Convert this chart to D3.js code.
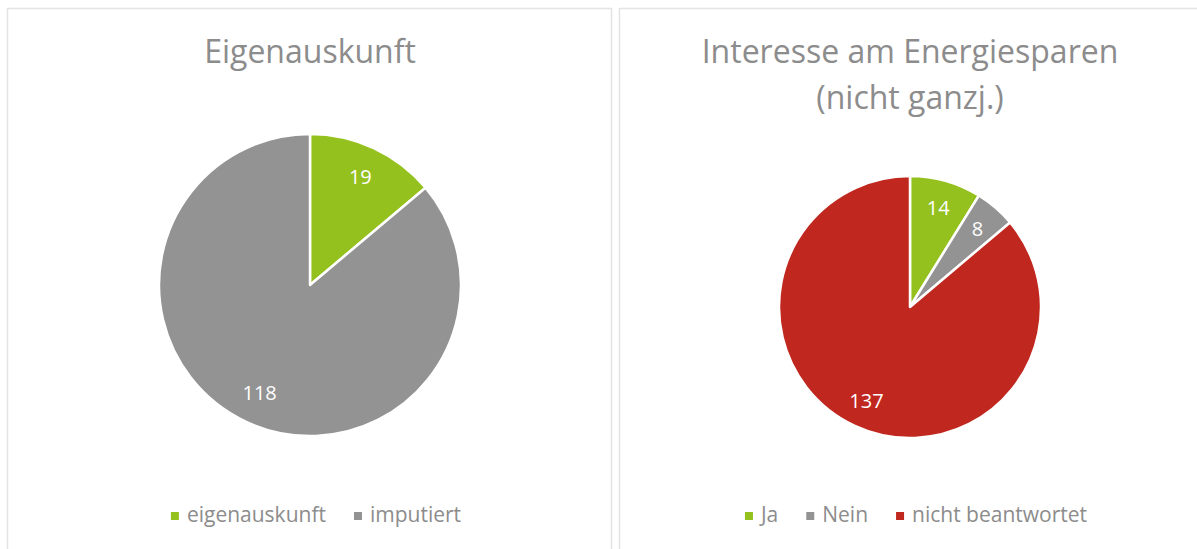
<!DOCTYPE html>
<html>
<head>
<meta charset="utf-8">
<script src="https://cdn.jsdelivr.net/npm/d3@7"></script>
<style>
  body { margin: 0; background: #fff; }
  svg { display: block; font-family: "Open Sans", sans-serif; }
</style>
</head>
<body>
<script>
// chart data
var leftTitle = ["Eigenauskunft"];
var leftLabels = ["eigenauskunft", "imputiert"];
var leftValues = [19, 118];

var rightTitle = ["Interesse am Energiesparen", "(nicht ganzj.)"];
var rightLabels = ["Ja", "Nein", "nicht beantwortet"];
var rightValues = [14, 8, 137];

var width = 1197, height = 549;

var colorMap = {
  "eigenauskunft": "#95c11f",
  "imputiert": "#939393",
  "Ja": "#95c11f",
  "Nein": "#939393",
  "nicht beantwortet": "#c0281f"
};

var svg = d3.select("body").append("svg")
    .attr("width", width)
    .attr("height", height);

var panels = [
  {x: 7.5, w: 604, cx: 310, cy: 285, r: 151, title: leftTitle, labels: leftLabels, values: leftValues, legendShift: 6},
  {x: 619.5, w: 600, cx: 910, cy: 307, r: 131, title: rightTitle, labels: rightLabels, values: rightValues, legendShift: 6}
];

panels.forEach(function(p) {
  // frame
  svg.append("rect")
      .attr("x", p.x).attr("y", 8.5)
      .attr("width", p.w).attr("height", 560)
      .attr("fill", "none")
      .attr("stroke", "#e3e3e3")
      .attr("stroke-width", 1.5);

  // title
  var t = svg.append("text")
      .attr("text-anchor", "middle")
      .attr("fill", "#8c8c8c")
      .style("font-size", "32px");
  p.title.forEach(function(line, i) {
    t.append("tspan")
        .attr("x", p.cx)
        .attr("y", 63 + i * 46)
        .text(line);
  });

  var data = p.labels.map(function(l, i) { return {label: l, value: p.values[i]}; });

  var pie = d3.pie().sort(null).value(function(d) { return d.value; });
  var arc = d3.arc().innerRadius(0).outerRadius(p.r);
  var labelArc = d3.arc().innerRadius(p.r * 0.79).outerRadius(p.r * 0.79);

  var g = svg.append("g").attr("transform", "translate(" + p.cx + "," + p.cy + ")");
  var arcs = pie(data);

  g.selectAll("path")
      .data(arcs)
      .enter().append("path")
      .attr("d", arc)
      .attr("fill", function(d) { return colorMap[d.data.label]; })
      .attr("stroke", "#fff")
      .attr("stroke-width", 2.5)
      .attr("stroke-linejoin", "round");

  g.selectAll("text")
      .data(arcs)
      .enter().append("text")
      .attr("transform", function(d) { return "translate(" + labelArc.centroid(d) + ")"; })
      .attr("text-anchor", "middle")
      .attr("dy", "0.36em")
      .attr("fill", "#fff")
      .style("font-size", "20px")
      .text(function(d) { return d.data.value; });

  // legend
  var leg = svg.append("g");
  var xpos = 0;
  data.forEach(function(d, i) {
    var item = leg.append("g").attr("transform", "translate(" + xpos + ",0)");
    item.append("rect")
        .attr("x", 0).attr("y", -10)
        .attr("width", 8).attr("height", 8)
        .attr("fill", colorMap[d.label]);
    var txt = item.append("text")
        .attr("x", 16).attr("y", 0)
        .attr("fill", "#8c8c8c")
        .style("font-size", "21px")
        .text(d.label);
    xpos += 16 + txt.node().getComputedTextLength() + 28;
  });
  var total = xpos - 28;
  leg.attr("transform", "translate(" + (p.cx + p.legendShift - total / 2) + ",522)");
});
</script>
</body>
</html>
